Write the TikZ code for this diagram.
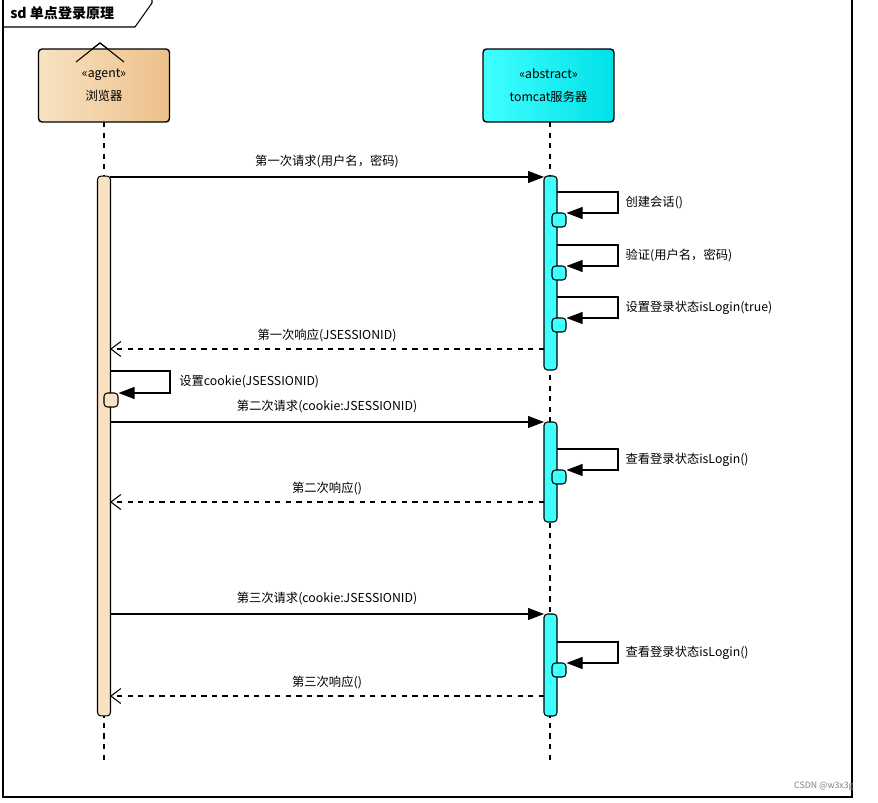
\documentclass[tikz,border=0pt]{standalone}
\usepackage{fontspec}
\setmainfont{Noto Sans CJK SC}
\usetikzlibrary{arrows.meta,positioning,calc}
\definecolor{agentA}{HTML}{F8E2C2}
\definecolor{agentB}{HTML}{EDC08A}
\definecolor{srvA}{HTML}{40FFFF}
\definecolor{srvB}{HTML}{00E0E8}
\tikzset{
  lbl/.style={font=\fontsize{7}{8}\selectfont, inner sep=1pt},
  head/.style={draw, thick, rounded corners=2pt, minimum width=2.62cm, minimum height=1.46cm, align=center, font=\fontsize{7}{10}\selectfont},
  act/.style={draw, rounded corners=2pt, minimum width=0.26cm, inner sep=0pt},
  sub/.style={draw, rounded corners=2pt, minimum width=0.28cm, minimum height=0.28cm, inner sep=0pt},
  call/.style={-{Triangle[length=0.32cm,width=0.24cm]}},
  back/.style={dashed, -{Straight Barb[length=0.2cm,width=0.3cm]}},
  life/.style={dashed}
}
\begin{document}
\begin{tikzpicture}[x=0.02cm,y=-0.02cm,line width=0.6pt]
\useasboundingbox (0,0) rectangle (878,803);
% frame and title
\draw (3,0) -- (3,797) -- (852,797) -- (852,0);
\draw (3,27) -- (135,27) -- (152,3) -- (152,0);
\node[lbl, anchor=west, font=\fontsize{8}{9}\selectfont\bfseries] (title) at (8,13) {sd 单点登录原理};
% lifelines
\draw[life] (104,122) -- (104,760);
\draw[life] (550,122) -- (550,760);
% heads
\node[head, left color=agentA, right color=agentB] (browser) at (104,85.5) {«agent»\\[3pt]浏览器};
\draw (76,62) -- (100,43) -- (124,62);
\draw (92,49) -- (100,43) -- (108,49);
\node[head, fill=srvA, left color=srvA, right color=srvB] (tomcat) at (548.5,85.5) {«abstract»\\[3pt]tomcat服务器};
% activations
\node[act, fill=agentA, minimum height=10.8cm] (actB) at (104,446) {};
\node[act, fill=srvA, minimum height=3.88cm] (actT1) at (550.5,273) {};
\node[act, fill=srvA, minimum height=2cm] (actT2) at (550.5,472) {};
\node[act, fill=srvA, minimum height=2.04cm] (actT3) at (550.5,665) {};
% message ends
\foreach \n/\y in {m1/177,r1/349,m2/422,r2/502,m3/614,r3/696} {
  \coordinate (\n B) at (110,\y);
  \coordinate (\n T) at (544,\y);
}
% calls and returns
\draw[call] (m1B) -- (m1T) node[lbl, midway, above=4pt] {第一次请求(用户名，密码)};
\draw[back] (r1T) -- (r1B) node[lbl, midway, above=3pt] {第一次响应(JSESSIONID)};
\draw[call] (m2B) -- (m2T) node[lbl, midway, above=4pt] {第二次请求(cookie:JSESSIONID)};
\draw[back] (r2T) -- (r2B) node[lbl, midway, above=3pt] {第二次响应()};
\draw[call] (m3B) -- (m3T) node[lbl, midway, above=4pt] {第三次请求(cookie:JSESSIONID)};
\draw[back] (r3T) -- (r3B) node[lbl, midway, above=3pt] {第三次响应()};
% self calls on tomcat
\foreach \n/\y/\t in {s1/192/创建会话(),s2/245/验证(用户名，密码),s3/297/设置登录状态isLogin(true),s4/449/查看登录状态isLogin(),s5/642/查看登录状态isLogin()} {
  \node[sub, fill=srvA] (\n) at (559,\y+28) {};
  \coordinate (\n a) at (557,\y);
  \draw[call] (\n a) -- ++(61,0) |- ($(\n.east)+(0,-7)$) node[lbl, anchor=west, pos=0.25, xshift=3pt] {\t};
}
% self call on browser
\node[sub, fill=agentA] (cook) at (111,400) {};
\coordinate (ca) at (110,371);
\draw[call] (ca) -- ++(60,0) |- ($(cook.east)+(0,-7)$) node[lbl, anchor=west, pos=0.25, xshift=4pt] {设置cookie(JSESSIONID)};
\node[font=\fontsize{5}{6}\selectfont, text=gray, anchor=east] (mark) at (860,786) {CSDN @w3x3g};
\end{tikzpicture}
\end{document}
